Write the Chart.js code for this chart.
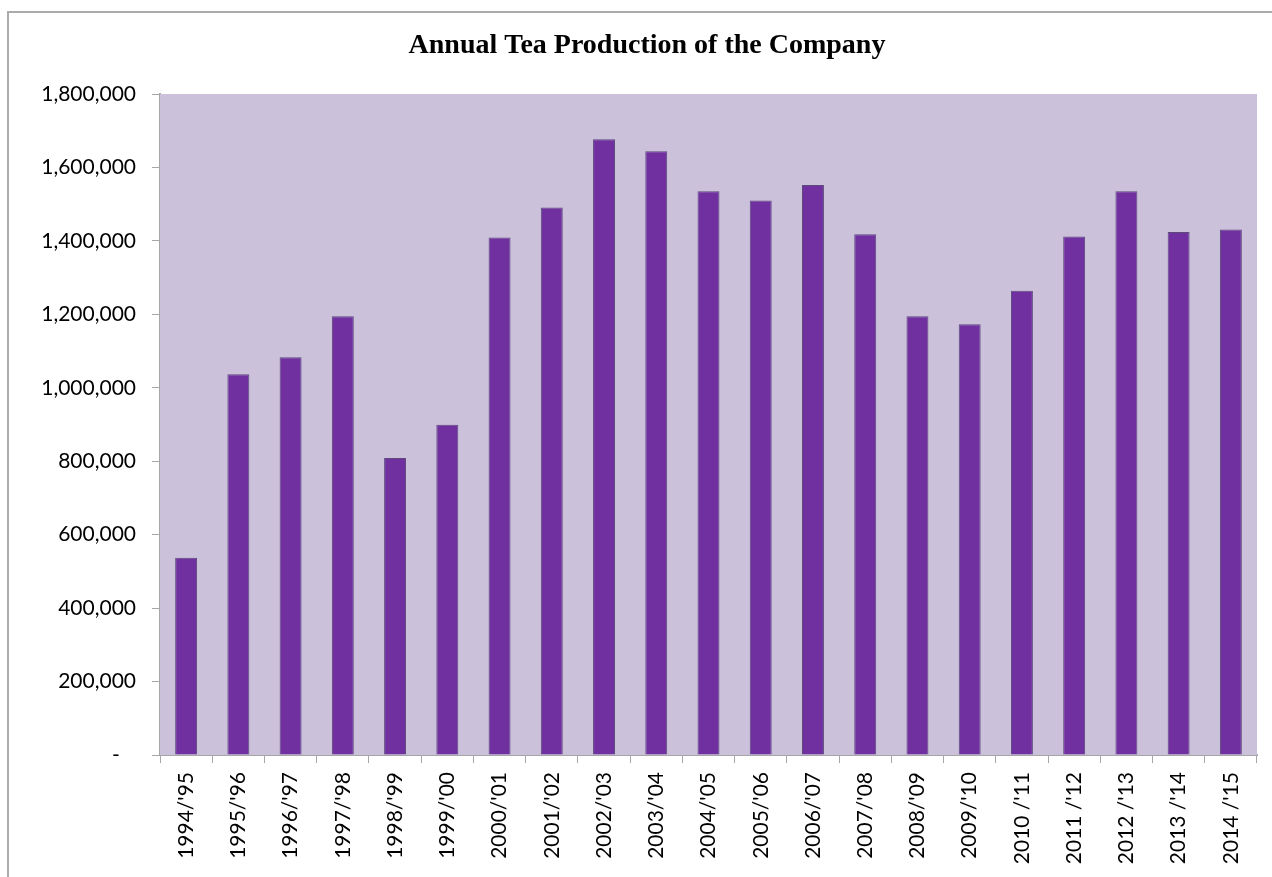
<!DOCTYPE html>
<html>
<head>
<meta charset="utf-8">
<script src="https://cdn.jsdelivr.net/npm/chart.js@4.4.1/dist/chart.umd.min.js"></script>
<style>
  html, body { margin: 0; padding: 0; background: #ffffff; overflow: hidden; }
  #wrap { position: relative; width: 1272px; height: 877px; }
  #frame { position: absolute; left: 7px; top: 11px; width: 2000px; height: 2000px;
           border-top: 2px solid #ababab; border-left: 2px solid #ababab; }
  canvas { position: absolute; left: 0; top: 0; }
</style>
</head>
<body>
<div id="wrap">
  <div id="frame"></div>
  <canvas id="c" width="1272" height="877"></canvas>
</div>
<script>
const chartTitle = "Annual Tea Production of the Company";
const categories = [
  "1994/'95", "1995/'96", "1996/'97", "1997/'98", "1998/'99", "1999/'00",
  "2000/'01", "2001/'02", "2002/'03", "2003/'04", "2004/'05", "2005/'06",
  "2006/'07", "2007/'08", "2008/'09", "2009/'10", "2010 /'11", "2011 /'12",
  "2012 /'13", "2013 /'14", "2014 /'15"
];
const production = [
  537000, 1037000, 1083000, 1195000, 809000, 899000,
  1409000, 1491000, 1677000, 1644000, 1535000, 1510000,
  1552000, 1418000, 1195000, 1173000, 1264000, 1412000,
  1535000, 1424000, 1431000
];
const yMin = 0;
const yMax = 1800000;
const yStep = 200000;
const zeroLabel = "-   ";

const plotBg = {
  id: 'plotBg',
  beforeDatasetsDraw(chart) {
    const a = chart.chartArea;
    const ctx = chart.ctx;
    ctx.save();
    ctx.fillStyle = '#cbc1db';
    ctx.fillRect(a.left, a.top, a.right - a.left, a.bottom - a.top);
    ctx.restore();
  }
};

new Chart(document.getElementById('c'), {
  type: 'bar',
  data: {
    labels: categories,
    datasets: [{
      data: production,
      backgroundColor: '#7030a0',
      borderColor: '#5b4a7c',
      borderWidth: 1,
      barPercentage: 0.42,
      categoryPercentage: 1.0
    }]
  },
  options: {
    responsive: false,
    animation: false,
    devicePixelRatio: 1,
    layout: { padding: { left: 37, right: 15, top: 0, bottom: 0 } },
    plugins: {
      legend: { display: false },
      tooltip: { enabled: false },
      title: {
        display: true,
        text: chartTitle,
        color: '#000000',
        font: { family: "'Liberation Serif', serif", size: 28, weight: 'bold', lineHeight: 1.2 },
        padding: { top: 29, bottom: 31.4 }
      }
    },
    scales: {
      x: {
        afterFit(s) { s.height = 122; },
        grid: { display: true, drawOnChartArea: false, drawTicks: true, tickLength: 8, color: '#a6a6a6', lineWidth: 1, offset: true },
        border: { display: true, color: '#a6a6a6', width: 2 },
        ticks: {
          color: '#000000',
          font: { family: "Lato, 'Open Sans', sans-serif", size: 21 },
          minRotation: 90, maxRotation: 90,
          padding: 9,
          autoSkip: false
        }
      },
      y: {
        min: yMin, max: yMax,
        afterFit(s) { s.width = 123; },
        grid: { display: true, drawOnChartArea: false, drawTicks: true, tickLength: 8, color: '#a6a6a6', lineWidth: 1 },
        border: { display: true, color: '#a6a6a6', width: 2 },
        ticks: {
          stepSize: yStep,
          color: '#000000',
          font: { family: "Lato, 'Open Sans', sans-serif", size: 21 },
          padding: 16,
          callback: (v) => v === 0 ? zeroLabel : Number(v).toLocaleString('en-US')
        }
      }
    }
  },
  plugins: [plotBg]
});
</script>
</body>
</html>
